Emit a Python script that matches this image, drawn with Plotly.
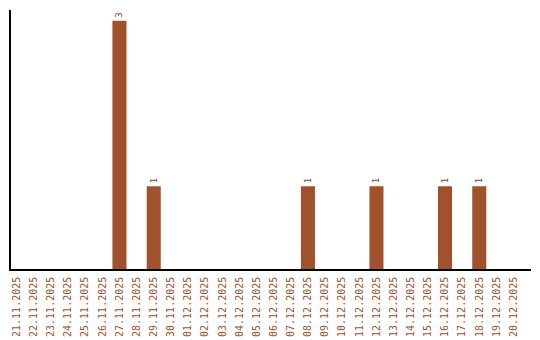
import plotly.graph_objects as go

dates = ["21.11.2025","22.11.2025","23.11.2025","24.11.2025","25.11.2025","26.11.2025",
         "27.11.2025","28.11.2025","29.11.2025","30.11.2025","01.12.2025","02.12.2025",
         "03.12.2025","04.12.2025","05.12.2025","06.12.2025","07.12.2025","08.12.2025",
         "09.12.2025","10.12.2025","11.12.2025","12.12.2025","13.12.2025","14.12.2025",
         "15.12.2025","16.12.2025","17.12.2025","18.12.2025","19.12.2025","20.12.2025"]
counts = [0,0,0,0,0,0,3,0,1,0,0,0,0,0,0,0,0,1,0,0,0,1,0,0,0,1,0,1,0,0]

color = "#A0522D"
idx = list(range(len(dates)))
texts = [str(v) if v > 0 else "" for v in counts]

fig = go.Figure(go.Bar(
    x=idx, y=counts, width=0.82, marker_color=color, marker_line_width=0,
    text=texts, textposition="outside", textangle=-90, cliponaxis=False,
    textfont=dict(family="DejaVu Sans Mono", size=9, color="#8B4A2B"),
))
fig.update_layout(
    width=540, height=340, margin=dict(l=11, r=9, t=10, b=71),
    paper_bgcolor="white", plot_bgcolor="white", showlegend=False,
    xaxis=dict(range=[-0.33, 30.02], tickvals=idx, ticktext=dates, tickangle=-90,
               tickfont=dict(family="DejaVu Sans Mono", size=10, color=color),
               showgrid=False, showline=True, linecolor="black", linewidth=1.5,
               ticks="", zeroline=False, automargin=False, ticklabelstandoff=2),
    yaxis=dict(range=[0, 3.13], showticklabels=False, showgrid=False, showline=True,
               linecolor="black", linewidth=1.5, ticks="", zeroline=False,
               automargin=False),
)
fig.write_html("out.html")
